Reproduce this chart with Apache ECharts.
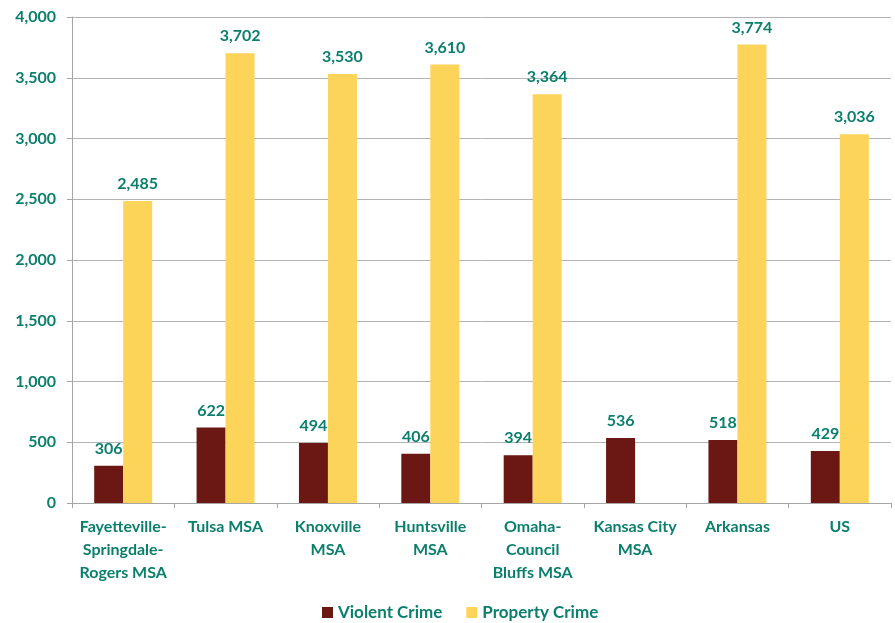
<!DOCTYPE html>
<html>
<head>
<meta charset="utf-8">
<script src="https://cdn.jsdelivr.net/npm/echarts@6/dist/echarts.min.js"></script>
<style>
  html, body { margin: 0; padding: 0; background: #fff; }
  #chart { width: 895px; height: 623px; }
</style>
</head>
<body>
<div id="chart"></div>
<script>
const categories = ['Fayetteville-\nSpringdale-\nRogers MSA', 'Tulsa MSA', 'Knoxville\nMSA', 'Huntsville\nMSA', 'Omaha-\nCouncil\nBluffs MSA', 'Kansas City\nMSA', 'Arkansas', 'US']
const violentCrime = [306, 622, 494, 406, 394, 536, 518, 429]
const propertyCrime = [2485, 3702, 3530, 3610, 3364, null, 3774, 3036]
const yTicks = { min: 0, max: 4000, interval: 500 }

const green = '#0b7f6c'
const font = 'Lato'
const weight = 'bold'

function fmt(v) {
  return Number(v).toLocaleString('en-US')
}

const chart = echarts.init(document.getElementById('chart'))
chart.setOption({
  animation: false,
  textStyle: { fontFamily: font },
  grid: { left: 72, right: 4, top: 17, bottom: 120, containLabel: false },
  legend: {
    bottom: -3,
    left: 317,
    itemWidth: 11,
    itemHeight: 11,
    itemGap: 24,
    icon: 'rect',
    textStyle: { color: green, fontWeight: weight, fontSize: 17, fontFamily: font },
    data: ['Violent Crime', 'Property Crime']
  },
  xAxis: {
    type: 'category',
    data: categories,
    axisLine: { lineStyle: { color: '#a6a6a6', width: 1 } },
    axisTick: { show: true, length: 5, lineStyle: { color: '#a6a6a6' } },
    axisLabel: {
      color: green, fontWeight: weight, fontSize: 16, fontFamily: font,
      margin: 12, lineHeight: 23, interval: 0
    }
  },
  yAxis: {
    type: 'value',
    min: yTicks.min,
    max: yTicks.max,
    interval: yTicks.interval,
    axisLine: { show: true, lineStyle: { color: '#a6a6a6', width: 1 } },
    axisTick: { show: true, length: 5, lineStyle: { color: '#a6a6a6' } },
    splitLine: { lineStyle: { color: '#b3b3b3', width: 1 } },
    axisLabel: {
      color: green, fontWeight: weight, fontSize: 16, fontFamily: font,
      margin: 16, formatter: fmt
    }
  },
  series: [
    {
      name: 'Violent Crime',
      type: 'bar',
      data: violentCrime,
      barWidth: 29,
      barGap: '0%',
      itemStyle: { color: '#6b1713' },
      label: {
        show: true, position: 'top', distance: 9,
        color: green, fontWeight: weight, fontSize: 16, fontFamily: font,
        formatter: p => fmt(p.value)
      }
    },
    {
      name: 'Property Crime',
      type: 'bar',
      data: propertyCrime,
      barWidth: 29,
      itemStyle: { color: '#fdd45a' },
      label: {
        show: true, position: 'top', distance: 9,
        color: green, fontWeight: weight, fontSize: 16, fontFamily: font,
        formatter: p => fmt(p.value)
      }
    }
  ]
})
</script>
</body>
</html>
